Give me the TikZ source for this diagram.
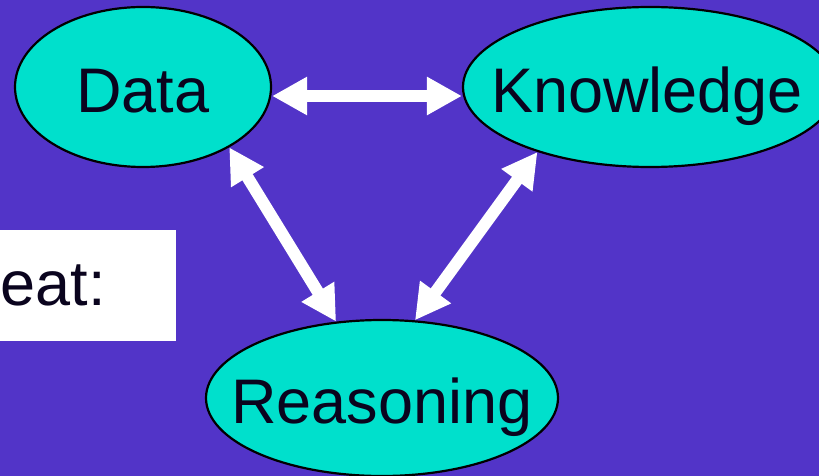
\documentclass[tikz,border=0pt]{standalone}
\usepackage{fontspec}
\setmainfont{Liberation Sans}
\usetikzlibrary{shapes.geometric}
\usetikzlibrary{arrows.meta}
\definecolor{slidebg}{RGB}{82,52,200}
\definecolor{bubblefill}{RGB}{0,224,204}
\definecolor{ink}{RGB}{10,4,30}

\begin{document}
\begin{tikzpicture}[x=1pt, y=-1pt,
    bubble/.style={ellipse, draw=black, line width=2.2pt, fill=bubblefill, inner sep=0pt},
    word/.style={font=\fontsize{63}{70}\selectfont, text=ink, inner sep=0pt, anchor=base},
    link/.style={white, line width=12pt, {Triangle[length=35pt,width=36pt]}-{Triangle[length=35pt,width=36pt]}}]
% Slide background
\fill[slidebg] (0,0) rectangle (819,476);
\useasboundingbox (0,0) rectangle (819,476);

% Box cut by the slide edge
\fill[white] (-300,230) rectangle (176,341);
\node[word, anchor=base east] (cue) at (106,305) {eat:};

% Ellipses
\node[bubble, minimum width=256pt, minimum height=160pt] (data) at (143,87) {};
\node[bubble, minimum width=374pt, minimum height=160pt] (know) at (650,87) {};
\node[bubble, minimum width=352pt, minimum height=156pt] (reason) at (382,398) {};

% Labels
\node[word] (dataText) at ([yshift=-26pt]data.center) {Data};
\node[word] (knowText) at ([xshift=-3pt, yshift=-26pt]know.center) {Knowledge};
\node[word] (reasonText) at ([yshift=-25pt]reason.center) {Reasoning};

% Arrows
\draw[link] ([yshift=-9pt]data.east) -- ([yshift=-9pt]know.west);
\draw[link] (data.-35) -- (reason.121);
\draw[link] (know.210) -- (reason.67);
\end{tikzpicture}
\end{document}
